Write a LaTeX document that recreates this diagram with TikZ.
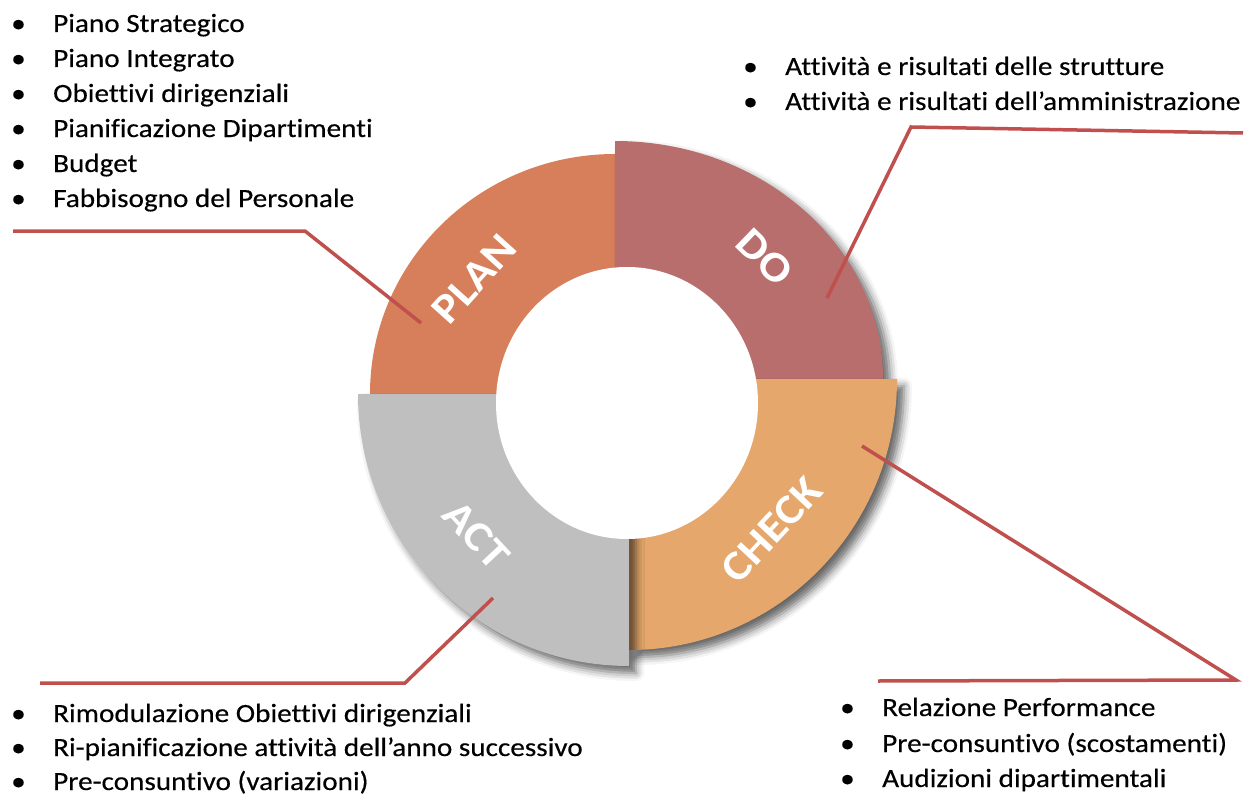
\documentclass[tikz,border=0pt]{standalone}
\usepackage{fontspec}
\setmainfont{Carlito}[FakeStretch=1.11, Ligatures={NoCommon}]
\newfontfamily\listfont{Carlito}[FakeStretch=1.11, FakeBold=0.35, Ligatures={NoCommon}]
\usetikzlibrary{shadows.blur}
\definecolor{planc}{HTML}{D77F5B}
\definecolor{doc}{HTML}{B86E6C}
\definecolor{checkc}{HTML}{E5A76B}
\definecolor{actc}{HTML}{BFBFBF}
\definecolor{linec}{HTML}{C0504D}
\newcommand{\itm}[1]{\makebox[42bp][l]{•}#1}
\tikzset{
  shad/.style={blur shadow={shadow xshift=7bp, shadow yshift=-7bp, shadow blur radius=8bp, shadow opacity=60}},
  lab/.style={text=white, font=\bfseries\fontsize{42bp}{42bp}\selectfont, inner sep=0},
  item/.style={anchor=base west, inner sep=0, font=\listfont\fontsize{26.3bp}{35bp}\selectfont},
  conn/.style={draw=linec, line width=3.5bp}
}
\begin{document}
\begin{tikzpicture}[x=1bp, y=1bp]
\useasboundingbox (0,0) rectangle (1246,-796);
% quadrants
\fill[planc] (615,-394) -- (370,-394) arc[start angle=180, end angle=90, x radius=245, y radius=240] -- cycle;
\fill[doc, shad] (615,-379) -- (615,-141) arc[start angle=90, end angle=0, x radius=268, y radius=238] -- cycle;
\fill[checkc, shad] (629,-379) -- (897,-379) arc[start angle=0, end angle=-90, x radius=268, y radius=271] -- cycle;
\fill[actc, shad] (629,-394) -- (629,-666) arc[start angle=-90, end angle=-180, x radius=271, y radius=272] -- cycle;
\fill[white] (627,-403) ellipse[x radius=131, y radius=136];
% labels
\node[lab, rotate=48] (planlab) at (474,-279) {PLAN};
\node[lab, rotate=-44] (dolab) at (765,-257) {DO};
\node[lab, rotate=47] (checklab) at (772,-530) {CHECK};
\node[lab, rotate=-47] (actlab) at (476,-535) {ACT};
% connectors
\coordinate (planpt) at (421,-323);
\coordinate (planbend) at (305,-231);
\coordinate (planend) at (13,-231);
\coordinate (dopt) at (827,-298);
\coordinate (dobend) at (911,-127);
\coordinate (doend) at (1243,-133);
\coordinate (checkpt) at (862,-446);
\coordinate (checkbend) at (1236,-680);
\coordinate (checkend) at (878,-681);
\coordinate (actpt) at (493,-598);
\coordinate (actbend) at (405,-683);
\coordinate (actend) at (40,-683);
\draw[conn] (planpt) -- (planbend) -- (planend);
\draw[conn] (dopt) -- (dobend) -- (doend);
\draw[conn] (checkpt) -- (checkbend) -- (checkend);
\draw[conn] (actpt) -- (actbend) -- (actend);
% lists
\node[item] (p1) at (11,-32) {\itm{Piano Strategico}};
\node[item] (p2) at (11,-67) {\itm{Piano Integrato}};
\node[item] (p3) at (11,-102) {\itm{Obiettivi dirigenziali}};
\node[item] (p4) at (11,-137) {\itm{Pianificazione Dipartimenti}};
\node[item] (p5) at (11,-172) {\itm{Budget}};
\node[item] (p6) at (11,-207) {\itm{Fabbisogno del Personale}};
\node[item] (d1) at (743,-75) {\itm{Attività e risultati delle strutture}};
\node[item] (d2) at (743,-110) {\itm{Attività e risultati dell’amministrazione}};
\node[item] (c1) at (840,-716) {\itm{Relazione Performance}};
\node[item] (c2) at (840,-752) {\itm{Pre-consuntivo (scostamenti)}};
\node[item] (c3) at (840,-787) {\itm{Audizioni dipartimentali}};
\node[item] (a1) at (11,-722) {\itm{Rimodulazione Obiettivi dirigenziali}};
\node[item] (a2) at (11,-756) {\itm{Ri-pianificazione attività dell’anno successivo}};
\node[item] (a3) at (11,-790) {\itm{Pre-consuntivo (variazioni)}};
\end{tikzpicture}
\end{document}
